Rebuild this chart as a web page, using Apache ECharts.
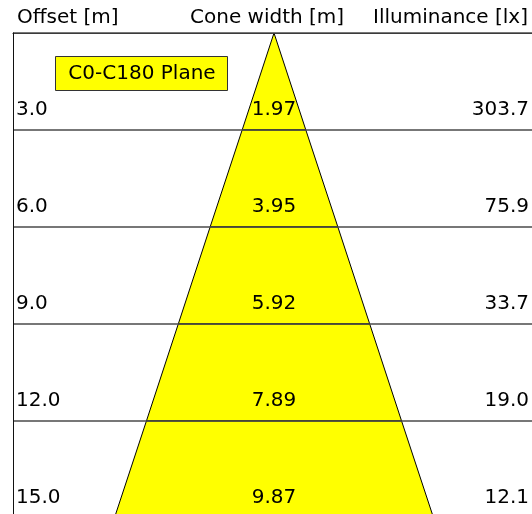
<!DOCTYPE html>
<html>
<head>
<meta charset="utf-8">
<script src="https://cdn.jsdelivr.net/npm/echarts@6/dist/echarts.min.js"></script>
<style>
  html, body { margin: 0; padding: 0; background: #fff; }
  #chart { width: 532px; height: 514px; }
</style>
</head>
<body>
<div id="chart"></div>
<script>
// distance from the luminaire [m]
const offsets = [3, 6, 9, 12, 15]
const offsetLabels = ['3.0', '6.0', '9.0', '12.0', '15.0']
// cone diameter at each offset [m]
const coneWidths = [1.97, 3.95, 5.92, 7.89, 9.87]
const coneLabels = ['1.97', '3.95', '5.92', '7.89', '9.87']
// illuminance at each offset [lx]
const illuminanceLabels = ['303.7', '75.9', '33.7', '19.0', '12.1']

const FONT = 'DejaVu Sans'
const FS = 20

const chart = echarts.init(document.getElementById('chart'))

const txt = (x, y, text, align) => ({
  type: 'text',
  x: x,
  y: y,
  style: {
    text: text,
    fontFamily: FONT,
    fontSize: FS,
    fill: '#000',
    align: align,
    verticalAlign: 'middle'
  }
})

const option = {
  backgroundColor: '#fff',
  animation: false,
  grid: { left: 13, top: 33, width: 522, height: 485, outerBoundsMode: 'none' },
  xAxis: {
    type: 'value',
    position: 'top',
    min: -8.07,
    max: 8.07,
    axisLine: { show: true, onZero: false, lineStyle: { color: '#111', width: 1 } },
    axisTick: { show: false },
    axisLabel: { show: false },
    splitLine: { show: false }
  },
  yAxis: {
    type: 'value',
    inverse: true,
    min: 0,
    max: 15,
    interval: 3,
    z: 10,
    axisLine: { show: true, onZero: false, lineStyle: { color: '#111', width: 1 } },
    axisTick: { show: false },
    axisLabel: { show: false },
    splitLine: { show: true, lineStyle: { color: '#4a4a4a', width: 1.5 } }
  },
  graphic: [
    txt(17, 18, 'Offset [m]', 'left'),
    txt(190, 18, 'Cone width [m]', 'left'),
    txt(528, 18, 'Illuminance [lx]', 'right'),
    {
      type: 'group',
      z: 20,
      children: [
        {
          type: 'rect',
          shape: { x: 55.5, y: 56.5, width: 172, height: 34 },
          style: { fill: '#ffff00', stroke: '#333', lineWidth: 1 }
        },
        txt(142, 74, 'C0-C180 Plane', 'center')
      ]
    }
  ],
  series: [{
    type: 'custom',
    z: 5,
    data: offsets.map((d, i) => [d, coneWidths[i]]),
    renderItem: (params, api) => {
      const i = params.dataIndex
      const d = api.value(0)
      const w = api.value(1)
      const pd = i ? offsets[i - 1] : 0
      const pw = i ? coneWidths[i - 1] : 0
      const pts = [
        api.coord([-pw / 2, pd]),
        api.coord([pw / 2, pd]),
        api.coord([w / 2, d]),
        api.coord([-w / 2, d])
      ]
      const mid = api.coord([0, d])
      const y = mid[1] - 20
      return {
        type: 'group',
        children: [
          {
            type: 'polygon',
            shape: { points: pts },
            style: { fill: '#ffff00', stroke: '#000', lineWidth: 1 }
          },
          txt(params.coordSys.x + 3, y, offsetLabels[i], 'left'),
          txt(mid[0], y, coneLabels[i], 'center'),
          txt(api.getWidth() - 3, y, illuminanceLabels[i], 'right')
        ]
      }
    }
  }]
}

chart.setOption(option)
</script>
</body>
</html>
